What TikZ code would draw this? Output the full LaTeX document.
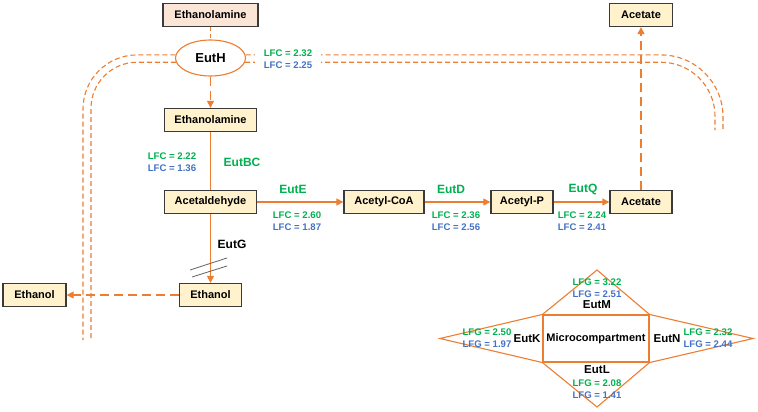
\documentclass[tikz,border=0pt]{standalone}
\usepackage{fontspec}
\setmainfont{Liberation Sans}
\usetikzlibrary{arrows.meta,shapes.geometric}
\definecolor{orng}{HTML}{ED7D31}
\definecolor{grn}{HTML}{00B050}
\definecolor{blu}{HTML}{4472C4}
\definecolor{boxfill}{HTML}{FFF2CC}
\definecolor{pinkfill}{HTML}{FBE5D6}
\definecolor{bord}{HTML}{3A3A3A}
\begin{document}
\begin{tikzpicture}[x=1pt,y=-1pt,
 met/.style={draw=bord, line width=1.3pt, fill=boxfill, font=\fontsize{11}{13}\selectfont\bfseries, minimum height=23pt, inner xsep=2pt, inner ysep=0pt},
 enz/.style={font=\fontsize{12}{14}\selectfont\bfseries},
 enzs/.style={font=\fontsize{11.5}{14}\selectfont\bfseries},
 lfc/.style={font=\fontsize{9.6}{12}\selectfont\bfseries, align=center, inner sep=1pt},
 oline/.style={draw=orng, line width=1.1pt},
 tip/.style={-{Triangle[length=7pt,width=7pt]}},
 bigdash/.style={dash pattern=on 9pt off 5pt},
 smalldash/.style={dash pattern=on 5pt off 3pt},
]
\useasboundingbox (0,0) rectangle (758,412);

% metabolites
\node[met, fill=pinkfill, minimum width=95pt] (ea0) at (210.5,15) {Ethanolamine};
\node[draw=orng, line width=1.1pt, fill=white, ellipse, inner sep=0pt, minimum width=70pt, minimum height=36pt, font=\fontsize{13}{15}\selectfont\bfseries] (euth) at (210.5,58) {EutH};
\node[met, minimum width=92pt] (ea1) at (210.5,120) {Ethanolamine};
\node[met, minimum width=92pt] (acet) at (210.5,202) {Acetaldehyde};
\node[met, minimum width=80pt] (acoa) at (384,202) {Acetyl-CoA};
\node[met, minimum width=62pt] (acp) at (522,202) {Acetyl-P};
\node[met, minimum width=62pt] (ac) at (641,202) {Acetate};
\node[met, minimum width=63pt] (ac0) at (641,15) {Acetate};
\node[met, minimum width=62pt] (eth) at (210.5,295) {Ethanol};
\node[met, minimum width=63pt] (ethL) at (34.5,295) {Ethanol};

% double dashed membrane lines
\coordinate (Lo) at (83,340);
\coordinate (Li) at (91,340);
\coordinate (Ro) at (723,132);
\coordinate (Ri) at (715,130);
\draw[oline, smalldash, rounded corners=54pt] (euth.175) -- (euth.175 -| Lo) -- (Lo);
\draw[oline, smalldash, rounded corners=46pt] (euth.187) -- (euth.187 -| Li) -- (Li);
\draw[oline, smalldash, rounded corners=62pt] (euth.5) -- (euth.5 -| Ro) -- (Ro);
\draw[oline, smalldash, rounded corners=54pt] (euth.353) -- (euth.353 -| Ri) -- (Ri);
\node[lfc, fill=white, inner xsep=9pt] (lfch) at (288,59) {\textcolor{grn}{LFC = 2.32}\\\textcolor{blu}{LFC = 2.25}};

% connectors
\draw[oline, dash pattern=on 4pt off 3pt] (ea0) -- (euth);
\draw[oline, bigdash, tip] (euth) -- (ea1);
\draw[oline] (ea1) -- (acet);
\draw[oline, tip] (acet) -- (acoa);
\draw[oline, tip] (acoa) -- (acp);
\draw[oline, tip] (acp) -- (ac);
\draw[oline, bigdash, tip] (ac) -- (ac0);
\draw[oline, tip] (acet) -- (eth);
\draw[oline, bigdash, tip] (eth) -- (ethL);

% inhibition marks
\draw[bord!80, line width=0.8pt] (190,270) -- (227,258);
\draw[bord!80, line width=0.8pt] (192,277) -- (227,266);

% enzyme labels
\node[enz, text=grn] (eutbc) at (242,162) {EutBC};
\node[lfc] (lfcbc) at (172,162) {\textcolor{grn}{LFC = 2.22}\\\textcolor{blu}{LFC = 1.36}};
\node[enz, text=grn] (eute) at (293,189) {EutE};
\node[lfc] (lfce) at (297,221) {\textcolor{grn}{LFC = 2.60}\\\textcolor{blu}{LFC = 1.87}};
\node[enz, text=grn] (eutd) at (451,189) {EutD};
\node[lfc] (lfcd) at (456,221) {\textcolor{grn}{LFC = 2.36}\\\textcolor{blu}{LFC = 2.56}};
\node[enz, text=grn] (eutq) at (583,189) {EutQ};
\node[lfc] (lfcq) at (582,221) {\textcolor{grn}{LFC = 2.24}\\\textcolor{blu}{LFC = 2.41}};
\node[enz] (eutg) at (232,244) {EutG};

% microcompartment
\node[draw=orng, line width=1.1pt, minimum width=106pt, minimum height=47pt, inner sep=0pt, font=\fontsize{11}{13}\selectfont\bfseries] (mc) at (596,338.5) {Microcompartment};
\coordinate (apT) at (597,270);
\coordinate (apB) at (597,407);
\coordinate (apL) at (440,338.5);
\coordinate (apR) at (753,338.5);
\draw[oline, line join=miter] (mc.north west) -- (apT) -- (mc.north east);
\draw[oline, line join=miter] (mc.south west) -- (apB) -- (mc.south east);
\draw[oline, line join=miter] (mc.north west) -- (apL) -- (mc.south west);
\draw[oline, line join=miter] (mc.north east) -- (apR) -- (mc.south east);

\node[lfc] (lfgm) at (597,288.5) {\textcolor{grn}{LFG = 3.22}\\\textcolor{blu}{LFG = 2.51}};
\node[enzs] (eutm) at (597,305) {EutM};
\node[enzs] (eutl) at (597,370) {EutL};
\node[lfc] (lfgl) at (597,389.5) {\textcolor{grn}{LFG = 2.08}\\\textcolor{blu}{LFG = 1.41}};
\node[enzs] (eutk) at (527,338.5) {EutK};
\node[lfc] (lfgk) at (487,338) {\textcolor{grn}{LFG = 2.50}\\\textcolor{blu}{LFG = 1.97}};
\node[enzs] (eutn) at (667,338.5) {EutN};
\node[lfc] (lfgn) at (708,338) {\textcolor{grn}{LFG = 2.32}\\\textcolor{blu}{LFG = 2.44}};
\end{tikzpicture}
\end{document}
